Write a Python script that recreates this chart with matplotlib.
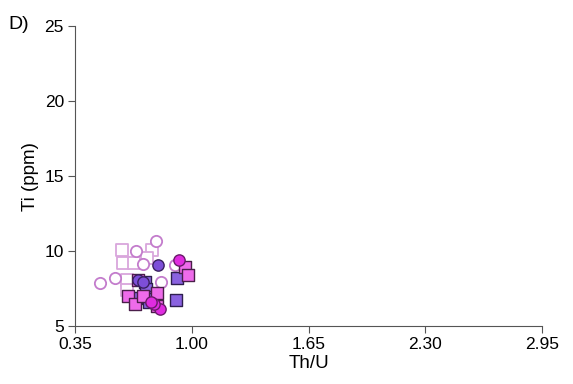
import matplotlib.pyplot as plt

plt.rcParams['font.family'] = ['Liberation Sans', 'DejaVu Sans']

# open light pink squares
sq_light_x = [0.61, 0.615, 0.68, 0.78, 0.75, 0.64, 0.64]
sq_light_y = [10.1, 9.17, 9.17, 10.1, 9.54, 8.1, 7.39]
# open circles
ci_open_x = [0.80, 0.69, 0.727, 0.49, 0.573, 0.83, 0.907]
ci_open_y = [10.65, 10.0, 9.12, 7.88, 8.17, 7.95, 9.1]
# filled purple circles
ci_purple_x = [0.814, 0.70, 0.73]
ci_purple_y = [9.05, 8.05, 7.95]
# magenta circles
ci_mag_x = [0.93, 0.823, 0.79, 0.77]
ci_mag_y = [9.43, 6.11, 6.45, 6.6]
# pink squares
sq_pink_x = [0.96, 0.98, 0.70, 0.643, 0.684, 0.805, 0.805, 0.73]
sq_pink_y = [8.94, 8.39, 8.1, 6.99, 6.46, 7.21, 6.33, 7.0]
# purple squares
sq_purple_x = [0.916, 0.912, 0.74, 0.745, 0.75, 0.69, 0.76, 0.78]
sq_purple_y = [8.17, 6.73, 7.95, 7.44, 6.95, 6.9, 6.6, 6.8]

fig = plt.figure(figsize=(5.73, 3.84), dpi=100)
ax = fig.add_axes([0.131, 0.151, 0.815, 0.781])

ms = 66
ax.scatter(sq_light_x, sq_light_y, marker='s', s=ms, facecolor='white', edgecolor='#d9a6dc', linewidth=1.3, zorder=2)
ax.scatter(ci_open_x, ci_open_y, marker='o', s=ms, facecolor='white', edgecolor='#c37ccc', linewidth=1.3, zorder=2)
ax.scatter(sq_purple_x, sq_purple_y, marker='s', s=ms, facecolor='#8a62e0', edgecolor='#2e1f4f', linewidth=1.0, zorder=3)
ax.scatter(sq_pink_x, sq_pink_y, marker='s', s=ms, facecolor='#ee6bea', edgecolor='#4a1f4a', linewidth=1.0, zorder=3)
ax.scatter(ci_purple_x, ci_purple_y, marker='o', s=ms, facecolor='#7d4ed8', edgecolor='#3a2060', linewidth=1.0, zorder=4)
ax.scatter(ci_mag_x, ci_mag_y, marker='o', s=ms, facecolor='#e02ce0', edgecolor='#6a1a6a', linewidth=1.0, zorder=4)

ax.set_xlim(0.35, 2.95)
ax.set_ylim(5, 25)
ax.set_xticks([0.35, 1.00, 1.65, 2.30, 2.95])
ax.set_xticklabels(['0.35', '1.00', '1.65', '2.30', '2.95'])
ax.set_yticks([5, 10, 15, 20, 25])
ax.spines['top'].set_visible(False)
ax.spines['right'].set_visible(False)
for s in ['left', 'bottom']:
    ax.spines[s].set_color('#555555')
ax.tick_params(direction='out', length=5, color='#555555', labelsize=12.5, pad=3)
ax.set_xlabel('Th/U', fontsize=13.5, labelpad=2)
ax.set_ylabel('Ti (ppm)', fontsize=13.5, labelpad=4)

fig.text(0.014, 0.925, 'D)', fontsize=14)

fig.savefig('out.png', dpi=100)
